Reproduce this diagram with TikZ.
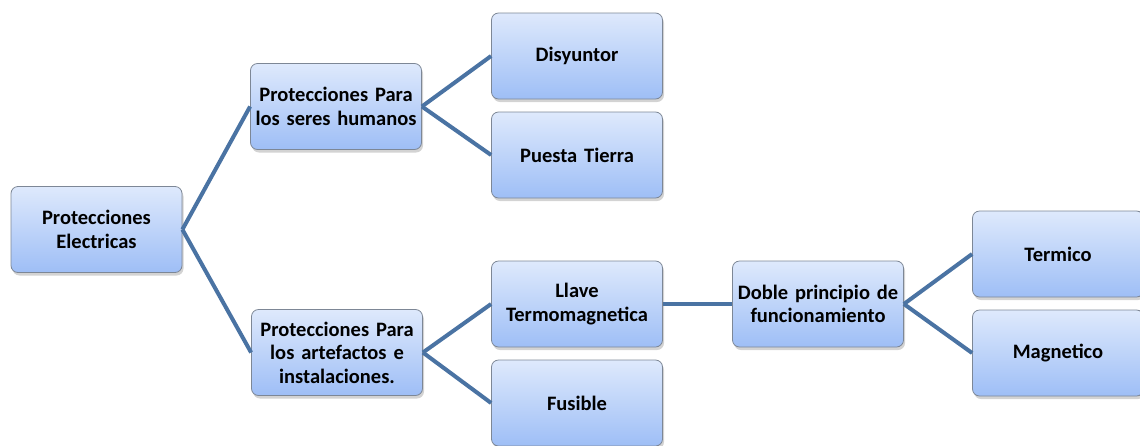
\documentclass[tikz,border=0pt]{standalone}
\usepackage{fontspec}
\setmainfont{Carlito}
\usetikzlibrary{shadows}
\definecolor{boxtop}{RGB}{222,233,252}
\definecolor{boxbot}{RGB}{158,190,246}
\definecolor{boxline}{RGB}{125,135,150}
\definecolor{linkblue}{RGB}{74,115,163}
\newcommand{\letracaja}{\bfseries\fontsize{20.5}{23.5}\selectfont\spaceskip=4.5pt\relax}
\begin{document}
\begin{tikzpicture}[x=1pt,y=-1pt,
  caja/.style={rectangle, rounded corners=7pt, draw=boxline, line width=0.8pt,
    top color=boxtop, bottom color=boxbot, minimum width=171pt, minimum height=86pt,
    text width=171pt, inner xsep=0pt, align=center, font=\letracaja,
    drop shadow={opacity=0.35, shadow xshift=1.5pt, shadow yshift=-3pt}},
  enlace/.style={draw=linkblue, line width=4pt}]
  \useasboundingbox (0,0) rectangle (1140,445);
  \node[caja] (raiz) at (96.5,229.5) {Protecciones\\Electricas};
  \node[caja] (humanos) at (336,106.5) {Protecciones Para\\los seres humanos};
  \node[caja] (artefactos) at (337,352.5) {Protecciones Para\\los artefactos e\\instalaciones.};
  \node[caja] (disyuntor) at (577,56) {Disyuntor};
  \node[caja] (tierra) at (577,155) {Puesta Tierra};
  \node[caja] (llave) at (577,304) {Llave\\Termomagnetica};
  \node[caja] (fusible) at (577,403) {Fusible};
  \node[caja] (doble) at (818,304) {Doble principio de\\funcionamiento};
  \node[caja] (termico) at (1058,254) {Termico};
  \node[caja] (magnetico) at (1058,353) {Magnetico};
  \draw[enlace] (raiz.east) -- (humanos.west);
  \draw[enlace] (raiz.east) -- (artefactos.west);
  \draw[enlace] (humanos.east) -- (disyuntor.west);
  \draw[enlace] (humanos.east) -- (tierra.west);
  \draw[enlace] (artefactos.east) -- (llave.west);
  \draw[enlace] (artefactos.east) -- (fusible.west);
  \draw[enlace] (llave.east) -- (doble.west);
  \draw[enlace] (doble.east) -- (termico.west);
  \draw[enlace] (doble.east) -- (magnetico.west);
\end{tikzpicture}
\end{document}
